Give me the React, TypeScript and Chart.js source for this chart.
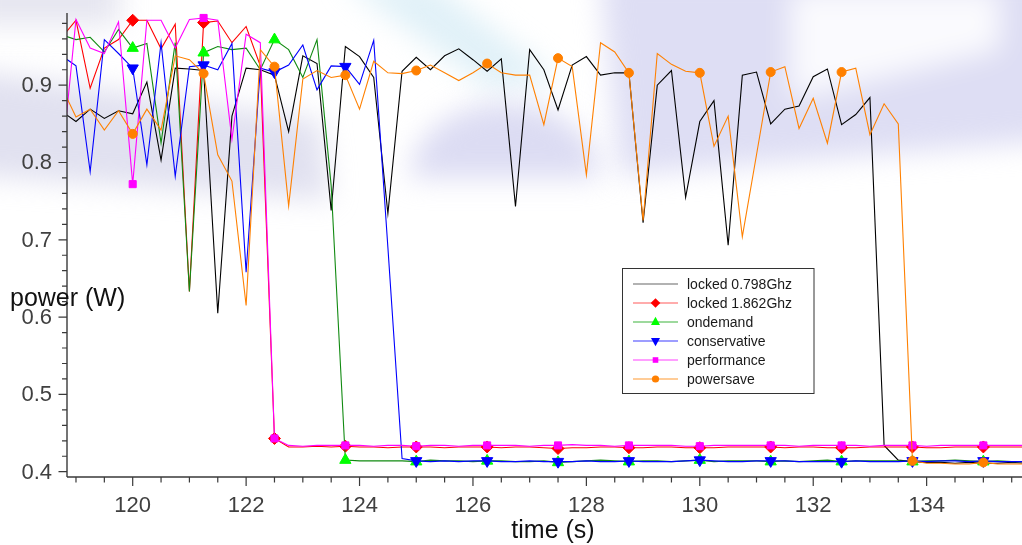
import React, { useEffect, useRef } from 'react';
import { Chart, registerables } from 'chart.js';
Chart.register(...registerables);

// ---- data ----
const times = [118.75, 119, 119.25, 119.5, 119.75, 120, 120.25, 120.5, 120.75, 121, 121.25, 121.5, 121.75, 122, 122.25, 122.5, 122.75, 123, 123.25, 123.5, 123.75, 124, 124.25, 124.5, 124.75, 125, 125.25, 125.5, 125.75, 126, 126.25, 126.5, 126.75, 127, 127.25, 127.5, 127.75, 128, 128.25, 128.5, 128.75, 129, 129.25, 129.5, 129.75, 130, 130.25, 130.5, 130.75, 131, 131.25, 131.5, 131.75, 132, 132.25, 132.5, 132.75, 133, 133.25, 133.5, 133.75, 134, 134.25, 134.5, 134.75, 135, 135.25, 135.5, 135.75];

const markerTimes = [120, 121.25, 122.5, 123.75, 125, 126.25, 127.5, 128.75, 130, 131.25, 132.5, 133.75, 135];

const locked0798 = [
  0.866, 0.853, 0.869, 0.857, 0.867, 0.863, 0.904, 0.803, 0.922, 0.921,
  0.919, 0.605, 0.86, 0.922, 0.920, 0.913, 0.840, 0.938, 0.928, 0.738,
  0.950, 0.937, 0.910, 0.734, 0.918, 0.936, 0.920, 0.938, 0.947, 0.933,
  0.918, 0.934, 0.743, 0.946, 0.920, 0.868, 0.926, 0.937, 0.913, 0.916,
  0.916, 0.722, 0.900, 0.919, 0.755, 0.853, 0.880, 0.693, 0.913, 0.917,
  0.850, 0.869, 0.873, 0.911, 0.921, 0.849, 0.862, 0.884, 0.434, 0.415,
  0.413, 0.412, 0.412, 0.411, 0.412, 0.411, 0.411, 0.412, 0.411];

const locked1862 = [
  0.962, 0.984, 0.896, 0.948, 0.959, 0.984, 0.984, 0.947, 0.979, 0.633,
  0.981, 0.983, 0.955, 0.976, 0.925, 0.443, 0.432, 0.432, 0.433, 0.432,
  0.433, 0.432, 0.432, 0.431, 0.432, 0.432, 0.432, 0.431, 0.432, 0.432,
  0.432, 0.431, 0.432, 0.432, 0.431, 0.430, 0.431, 0.431, 0.432, 0.432,
  0.431, 0.431, 0.432, 0.432, 0.431, 0.431, 0.431, 0.432, 0.432, 0.432,
  0.432, 0.431, 0.432, 0.432, 0.431, 0.431, 0.431, 0.432, 0.432, 0.432,
  0.432, 0.431, 0.431, 0.432, 0.432, 0.432, 0.432, 0.432, 0.432];

const ondemand = [
  0.965, 0.959, 0.962, 0.943, 0.972, 0.948, 0.954, 0.825, 0.955, 0.633,
  0.942, 0.950, 0.946, 0.948, 0.920, 0.959, 0.946, 0.910, 0.959, 0.77,
  0.415, 0.414, 0.414, 0.414, 0.414, 0.413, 0.415, 0.414, 0.414, 0.413,
  0.414, 0.414, 0.413, 0.413, 0.414, 0.412, 0.413, 0.414, 0.415, 0.414,
  0.413, 0.414, 0.414, 0.413, 0.414, 0.415, 0.413, 0.414, 0.414, 0.414,
  0.413, 0.414, 0.413, 0.414, 0.415, 0.413, 0.414, 0.414, 0.414, 0.414,
  0.413, 0.414, 0.414, 0.415, 0.414, 0.413, 0.414, 0.413, 0.413];

const conservative = [
  0.938, 0.925, 0.788, 0.959, 0.941, 0.922, 0.797, 0.955, 0.782, 0.924,
  0.926, 0.920, 0.954, 0.658, 0.922, 0.917, 0.926, 0.952, 0.894, 0.925,
  0.924, 0.901, 0.958, 0.69, 0.417, 0.414, 0.413, 0.414, 0.413, 0.414,
  0.414, 0.413, 0.413, 0.414, 0.413, 0.413, 0.413, 0.414, 0.413, 0.413,
  0.414, 0.413, 0.413, 0.413, 0.414, 0.415, 0.414, 0.413, 0.413, 0.414,
  0.414, 0.414, 0.413, 0.413, 0.413, 0.413, 0.414, 0.413, 0.413, 0.413,
  0.414, 0.413, 0.414, 0.414, 0.413, 0.414, 0.413, 0.413, 0.413];

const performance = [
  0.80, 0.985, 0.948, 0.941, 0.982, 0.772, 0.984, 0.984, 0.948, 0.985,
  0.987, 0.984, 0.83, 0.966, 0.955, 0.443, 0.434, 0.433, 0.434, 0.434,
  0.434, 0.434, 0.433, 0.434, 0.434, 0.433, 0.434, 0.434, 0.433, 0.434,
  0.434, 0.434, 0.434, 0.433, 0.434, 0.434, 0.435, 0.434, 0.434, 0.433,
  0.434, 0.434, 0.434, 0.434, 0.433, 0.433, 0.434, 0.434, 0.434, 0.434,
  0.434, 0.434, 0.433, 0.434, 0.434, 0.434, 0.434, 0.433, 0.434, 0.434,
  0.434, 0.433, 0.434, 0.434, 0.434, 0.434, 0.434, 0.434, 0.434];

const powersave = [
  0.897, 0.859, 0.869, 0.842, 0.867, 0.837, 0.869, 0.842, 0.938, 0.933,
  0.915, 0.81, 0.776, 0.615, 0.946, 0.924, 0.744, 0.908, 0.919, 0.910,
  0.913, 0.869, 0.931, 0.916, 0.915, 0.919, 0.926, 0.916, 0.906, 0.916,
  0.928, 0.916, 0.913, 0.913, 0.849, 0.935, 0.924, 0.784, 0.955, 0.943,
  0.916, 0.725, 0.941, 0.927, 0.918, 0.916, 0.821, 0.86, 0.704, 0.81,
  0.917, 0.924, 0.844, 0.883, 0.825, 0.917, 0.922, 0.836, 0.876, 0.850,
  0.414, 0.411, 0.411, 0.410, 0.410, 0.412, 0.410, 0.410, 0.410];

const seriesNames = ['locked 0.798Ghz', 'locked 1.862Ghz', 'ondemand', 'conservative', 'performance', 'powersave'];
const xTickValues = [120, 122, 124, 126, 128, 130, 132, 134];
const xTickLabels = ['120', '122', '124', '126', '128', '130', '132', '134'];
const yTickValues = [0.4, 0.5, 0.6, 0.7, 0.8, 0.9];
const yTickLabels = ['0.4', '0.5', '0.6', '0.7', '0.8', '0.9'];
const xTitle = 'time (s)';
const yTitle = 'power (W)';

// ---- styles ----
const styles = [
  { line: '#000000', fill: '#000000', shape: 'none', r: 0, lg: '#666666' },
  { line: '#ff0000', fill: '#ff0000', shape: 'rectRot', r: 6, lg: '#ff5a5a' },
  { line: '#118a11', fill: '#00ff00', shape: 'triangle', r: 6.5, lg: '#3cb43c' },
  { line: '#0000ff', fill: '#0000ff', shape: 'triangleDown', r: 6.5, lg: '#3c3cff' },
  { line: '#ff00ff', fill: '#ff00ff', shape: 'rect', r: 5, lg: '#ff40ff' },
  { line: '#ff8000', fill: '#ff8000', shape: 'circle', r: 4.5, lg: '#ff9a30' },
];
const seriesValues = [locked0798, locked1862, ondemand, conservative, performance, powersave];

const FONT = '"Liberation Sans", Arial, Helvetica, sans-serif';

function drawMarker(ctx: CanvasRenderingContext2D, shape: string, x: number, y: number, r: number, color: string) {
  ctx.save();
  ctx.fillStyle = color;
  ctx.beginPath();
  if (shape === 'rectRot') {
    ctx.moveTo(x, y - r); ctx.lineTo(x + r, y); ctx.lineTo(x, y + r); ctx.lineTo(x - r, y);
  } else if (shape === 'triangle') {
    ctx.moveTo(x, y - r); ctx.lineTo(x + r * 0.87, y + r * 0.6); ctx.lineTo(x - r * 0.87, y + r * 0.6);
  } else if (shape === 'triangleDown') {
    ctx.moveTo(x, y + r); ctx.lineTo(x + r * 0.87, y - r * 0.6); ctx.lineTo(x - r * 0.87, y - r * 0.6);
  } else if (shape === 'rect') {
    ctx.rect(x - r * 0.7, y - r * 0.7, r * 1.4, r * 1.4);
  } else if (shape === 'circle') {
    ctx.arc(x, y, r, 0, Math.PI * 2);
  }
  ctx.closePath();
  ctx.fill();
  ctx.restore();
}

const backgroundPlugin = {
  id: 'bgPlugin',
  beforeDraw(chart: any) {
    const ctx = chart.ctx as CanvasRenderingContext2D;
    ctx.save();
    ctx.fillStyle = '#ffffff';
    ctx.fillRect(0, 0, chart.width, chart.height);
    ctx.filter = 'blur(14px)';
    // left diagonal band
    ctx.fillStyle = 'rgba(200,200,228,0.55)';
    ctx.beginPath();
    ctx.moveTo(-30, 70); ctx.lineTo(320, 120); ctx.lineTo(330, 200); ctx.lineTo(-30, 175);
    ctx.closePath(); ctx.fill();
    ctx.fillStyle = 'rgba(205,205,225,0.5)';
    ctx.fillRect(-30, -30, 150, 55);
    // top middle cyan streaks
    ctx.fillStyle = 'rgba(195,228,242,0.5)';
    ctx.beginPath();
    ctx.moveTo(340, -20); ctx.lineTo(430, -20); ctx.lineTo(560, 80); ctx.lineTo(490, 90);
    ctx.closePath(); ctx.fill();
    // semicircle
    ctx.fillStyle = 'rgba(205,205,238,0.7)';
    ctx.beginPath();
    ctx.ellipse(505, 178, 95, 75, 0, Math.PI, 0);
    ctx.closePath(); ctx.fill();
    // top right lavender
    ctx.fillStyle = 'rgba(208,208,240,0.7)';
    ctx.beginPath();
    ctx.moveTo(600, -30); ctx.lineTo(1060, -30); ctx.lineTo(1060, 140); ctx.lineTo(620, 175);
    ctx.closePath(); ctx.fill();
    ctx.fillStyle = 'rgba(255,255,255,0.85)';
    ctx.beginPath();
    ctx.moveTo(790, -10); ctx.lineTo(1000, -10); ctx.lineTo(1000, 50); ctx.lineTo(790, 100);
    ctx.closePath(); ctx.fill();
    ctx.filter = 'none';
    ctx.restore();
  },
};

const axesPlugin = {
  id: 'axesPlugin',
  afterDraw(chart: any) {
    const ctx = chart.ctx as CanvasRenderingContext2D;
    const xs = chart.scales.x;
    const ys = chart.scales.y;
    const { left, right, top, bottom } = chart.chartArea;
    ctx.save();
    ctx.strokeStyle = '#3a3a3a';
    ctx.lineWidth = 1.4;
    // axes lines
    ctx.beginPath();
    ctx.moveTo(left, top); ctx.lineTo(left, bottom);
    ctx.moveTo(left, bottom); ctx.lineTo(right, bottom);
    ctx.stroke();
    // y ticks
    ctx.lineWidth = 1.2;
    ctx.beginPath();
    for (let v = 0.4; v < 0.99; v += 0.02) {
      const yy = ys.getPixelForValue(v);
      const isMajor = yTickValues.some((t) => Math.abs(t - v) < 1e-6);
      ctx.moveTo(left - (isMajor ? 8.5 : 5), yy); ctx.lineTo(left, yy);
    }
    // x ticks
    for (let t = 119; t <= 135.6; t += 0.5) {
      const xx = xs.getPixelForValue(t);
      const isMajor = xTickValues.some((v) => Math.abs(v - t) < 1e-6);
      ctx.moveTo(xx, bottom); ctx.lineTo(xx, bottom + (isMajor ? 9 : 5.5));
    }
    ctx.stroke();
    // tick labels
    ctx.fillStyle = '#404040';
    ctx.font = `22px ${FONT}`;
    ctx.textAlign = 'right';
    ctx.textBaseline = 'alphabetic';
    yTickValues.forEach((v, i) => {
      ctx.fillText(yTickLabels[i], 52, ys.getPixelForValue(v) + 7);
    });
    ctx.textAlign = 'center';
    xTickValues.forEach((v, i) => {
      ctx.fillText(xTickLabels[i], xs.getPixelForValue(v), 511.5);
    });
    // titles
    ctx.fillStyle = '#111111';
    ctx.font = `25px ${FONT}`;
    ctx.textAlign = 'center';
    ctx.fillText(xTitle, 553, 538);
    ctx.textAlign = 'left';
    ctx.fillText(yTitle, 10, 306);
    // legend
    const bx = 622.5, by = 268.5, bw = 191.5, bh = 125;
    ctx.fillStyle = '#ffffff';
    ctx.fillRect(bx, by, bw, bh);
    ctx.strokeStyle = '#333333';
    ctx.lineWidth = 1;
    ctx.strokeRect(bx, by, bw, bh);
    ctx.font = `14px ${FONT}`;
    ctx.textAlign = 'left';
    seriesNames.forEach((name, i) => {
      const cy = 284 + i * 19;
      const st = styles[i];
      ctx.strokeStyle = st.lg;
      ctx.lineWidth = 1.2;
      ctx.beginPath();
      ctx.moveTo(633, cy); ctx.lineTo(678, cy);
      ctx.stroke();
      if (st.shape !== 'none') drawMarker(ctx, st.shape, 655.5, cy, st.r * 0.8, st.fill);
      ctx.fillStyle = '#1a1a1a';
      ctx.fillText(name, 687, cy + 5);
    });
    ctx.restore();
  },
};

export default function App() {
  const ref = useRef<HTMLCanvasElement | null>(null);
  useEffect(() => {
    document.body.style.margin = '0';
    const canvas = ref.current;
    if (!canvas) return;
    const datasets = seriesValues.map((vals, i) => {
      const st = styles[i];
      const pointStyle = st.shape === 'triangleDown' ? 'triangle' : st.shape === 'none' ? 'circle' : st.shape;
      return {
        label: seriesNames[i],
        data: times.map((t, k) => ({ x: t, y: vals[k] })),
        borderColor: st.line,
        backgroundColor: st.fill,
        borderWidth: 1.1,
        tension: 0,
        pointStyle,
        pointRotation: st.shape === 'triangleDown' ? 180 : 0,
        pointRadius: (c: any) => (st.r > 0 && markerTimes.includes(times[c.dataIndex]) ? st.r : 0),
        pointHoverRadius: 0,
        pointBackgroundColor: st.fill,
        pointBorderColor: st.fill,
        pointBorderWidth: 1,
        order: 6 - i,
      };
    });
    const chart = new Chart(canvas, {
      type: 'line',
      data: { datasets },
      options: {
        animation: false,
        responsive: false,
        devicePixelRatio: 1,
        events: [],
        layout: { padding: { top: 13, left: 0, right: 0, bottom: 0 } },
        plugins: { legend: { display: false }, tooltip: { enabled: false } },
        scales: {
          x: {
            type: 'linear',
            min: 118.8415,
            max: 135.6815,
            grid: { display: false, drawTicks: false },
            border: { display: false },
            ticks: { display: false },
            afterFit: (s: any) => { s.height = 68; },
          },
          y: {
            type: 'linear',
            min: 0.39314,
            max: 0.9934,
            grid: { display: false, drawTicks: false },
            border: { display: false },
            ticks: { display: false },
            afterFit: (s: any) => { s.width = 67; },
          },
        },
      },
      plugins: [backgroundPlugin, axesPlugin],
    } as any);
    return () => chart.destroy();
  }, []);
  return <canvas ref={ref} width={1022} height={545} style={{ display: 'block' }} />;
}
